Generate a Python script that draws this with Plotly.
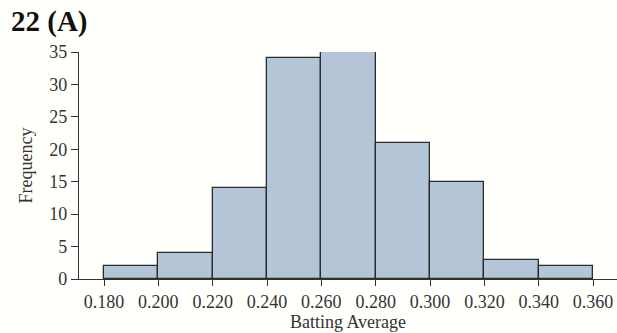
import plotly.graph_objects as go

bin_starts = [0.18, 0.20, 0.22, 0.24, 0.26, 0.28, 0.30, 0.32, 0.34]
frequencies = [2, 4, 14, 34, 35, 21, 15, 3, 2]
bin_width = 0.02
x_ticks = [0.18, 0.20, 0.22, 0.24, 0.26, 0.28, 0.30, 0.32, 0.34, 0.36]
y_ticks = [0, 5, 10, 15, 20, 25, 30, 35]

serif = "Liberation Serif, Times New Roman, serif"
axis_col = "#333333"

fig = go.Figure(go.Bar(
    x=[s + bin_width / 2 for s in bin_starts],
    y=frequencies,
    width=bin_width,
    marker=dict(color="#b3c5d7", line=dict(color="#2b2b2b", width=1.3)),
    hoverinfo="skip",
))

fig.update_layout(
    width=617, height=333,
    margin=dict(l=79, r=0, t=52, b=54, autoexpand=False),
    paper_bgcolor="#fffffc", plot_bgcolor="#fffffc",
    showlegend=False,
    title=dict(text="<b>22 (A)</b>", font=dict(family=serif, size=29, color="#111"),
               xref="container", x=11/617, xanchor="left",
               yref="container", y=1 - 11/333, yanchor="top", pad=dict(l=0, t=0)),
    bargap=0,
)
fig.update_xaxes(
    range=[0.1708, 0.3688], tickvals=x_ticks, tickformat=".3f", automargin=False,
    showgrid=False, zeroline=False, showline=True, linecolor=axis_col, linewidth=1.3,
    ticks="outside", ticklen=6, tickcolor=axis_col, tickwidth=1.3,
    tickfont=dict(family=serif, size=18, color="#333"),
    title=dict(text="Batting Average", font=dict(family=serif, size=18, color="#333"), standoff=2),
)
fig.update_yaxes(
    range=[0, 35], tickvals=y_ticks, automargin=False,
    showgrid=False, zeroline=False, showline=True, linecolor=axis_col, linewidth=1.3,
    ticks="outside", ticklen=7, tickcolor=axis_col, tickwidth=1.3,
    tickfont=dict(family=serif, size=18, color="#333"),
    title=dict(text="Frequency", font=dict(family=serif, size=18, color="#333"), standoff=11),
)

fig.write_html("out.html", config={"displayModeBar": False},
               post_script="document.body.style.margin='0';document.body.style.background='#fffffc';")
